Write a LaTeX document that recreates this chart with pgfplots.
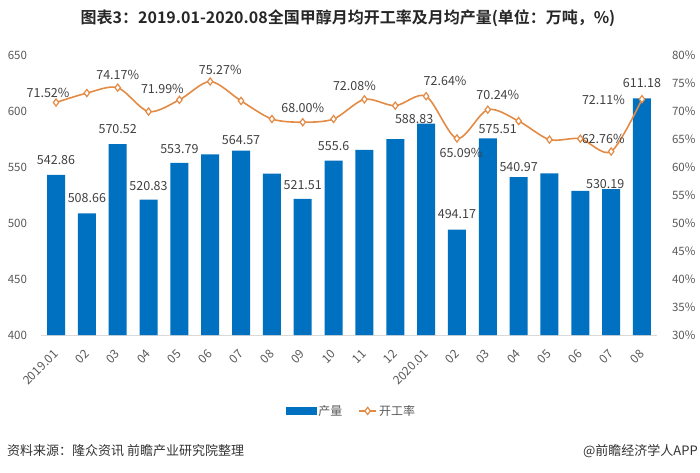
\documentclass[border=0pt]{standalone}
\usepackage{fontspec}
\setmainfont{Noto Sans CJK SC}
\newfontfamily\titlefont{Noto Sans CJK SC Bold}
\usepackage{pgfplots}
\pgfplotsset{compat=1.18}
\usepackage{pgfplotstable}
\definecolor{barblue}{HTML}{0070C0}
\definecolor{lineorange}{HTML}{E38B45}
\definecolor{tickgray}{HTML}{595959}
\definecolor{labgray}{HTML}{404040}
\definecolor{basegray}{HTML}{D9D9D9}

\pgfplotstableread{
x prod rate
0 542.86 71.52
1 508.66 73.20
2 570.52 74.17
3 520.83 69.90
4 553.79 71.99
5 561.30 75.27
6 564.57 71.80
7 544.00 68.57
8 521.51 68.00
9 555.60 68.57
10 565.20 72.08
11 575.00 70.95
12 588.83 72.64
13 494.17 65.09
14 575.51 70.24
15 540.97 68.20
16 544.40 64.90
17 528.60 65.05
18 530.19 62.76
19 611.18 72.11
}\data

\begin{document}
\begin{tikzpicture}[x=1pt,y=1pt]
\useasboundingbox (0,0) rectangle (700,472);
\tikzset{lab/.style={font=\fontsize{12.5}{12.5}\selectfont, text=labgray, inner sep=0pt, anchor=center}}
\begin{axis}[
  at={(40.6pt,137pt)}, anchor=south west,
  scale only axis, width=616.8pt, height=280pt,
  xmin=-0.5, xmax=19.5, ymin=400, ymax=650,
  axis x line*=bottom, axis y line*=left,
  y axis line style={draw=none},
  x axis line style={draw=basegray, line width=0.8pt, -},
  major tick length=0pt,
  ytick={400,450,...,650},
  xtick={0,...,19},
  xticklabels={2019.01,02,03,04,05,06,07,08,09,10,11,12,2020.01,02,03,04,05,06,07,08},
  /pgf/number format/assume math mode=true,
  yticklabel style={font=\fontsize{11.5}{11.5}\selectfont, text=tickgray, inner sep=0pt, anchor=east, xshift=-13.5pt},
  xticklabel style={font=\fontsize{12}{12}\selectfont, text=tickgray, inner sep=0pt, xshift=0pt, yshift=-17pt, rotate=45, anchor=east},
  clip=false,
]
\addplot[ybar, bar width=18pt, fill=barblue, draw=none] table[x=x, y=prod] {\data};
\node[lab, yshift=15pt] at (axis cs:0,542.86) {542.86};
\node[lab, yshift=15pt] at (axis cs:1,508.66) {508.66};
\node[lab, yshift=15pt] at (axis cs:2,570.52) {570.52};
\node[lab, yshift=14pt] at (axis cs:3,520.83) {520.83};
\node[lab, yshift=14pt] at (axis cs:4,553.79) {553.79};
\node[lab, yshift=11pt] at (axis cs:6,564.57) {564.57};
\node[lab, yshift=13.5pt] at (axis cs:8,521.51) {521.51};
\node[lab, yshift=15pt] at (axis cs:9,555.6) {555.6};
\node[lab, xshift=-12pt, yshift=4.5pt] at (axis cs:12,588.83) {588.83};
\node[lab, yshift=15pt] at (axis cs:13,494.17) {494.17};
\node[lab, xshift=10pt, yshift=9pt] at (axis cs:14,575.51) {575.51};
\node[lab, yshift=10.5pt] at (axis cs:15,540.97) {540.97};
\node[lab, xshift=-6pt, yshift=5pt] at (axis cs:18,530.19) {530.19};
\node[lab, yshift=15pt] at (axis cs:19,611.18) {611.18};
\end{axis}
\begin{axis}[
  at={(40.6pt,137pt)}, anchor=south west,
  scale only axis, width=616.8pt, height=280pt,
  xmin=-0.5, xmax=19.5, ymin=30, ymax=80,
  axis x line=none, axis y line*=right,
  y axis line style={draw=none},
  major tick length=0pt,
  ytick={30,35,...,80},
  yticklabels={30\%,35\%,40\%,45\%,50\%,55\%,60\%,65\%,70\%,75\%,80\%},
  yticklabel style={font=\fontsize{11.5}{11.5}\selectfont, text=tickgray, inner sep=0pt, anchor=west, xshift=14.5pt},
  clip=false,
  legend style={at={(0.504,-0.271)}, anchor=center, draw=none, fill=none,
    legend columns=2, font=\fontsize{12}{12}\selectfont, text=tickgray,
    /tikz/every even column/.append style={column sep=14pt},
    inner sep=0pt, nodes={inner sep=2pt}},
]
\addlegendimage{legend image code/.code={\fill[barblue] (0pt,-3.5pt) rectangle (30pt,3.5pt);}}
\addlegendentry{产量}
\addplot[lineorange, line width=1.6pt, smooth, tension=0.5,
  mark=diamond*, mark size=3.6pt,
  mark options={fill=white, draw=lineorange, line width=1.2pt, solid}]
  table[x=x, y=rate] {\data};
\addlegendentry{开工率}
\node[lab, xshift=-8pt, yshift=10pt] at (axis cs:0,71.52) {71.52\%};
\node[lab, yshift=13pt] at (axis cs:2,74.17) {74.17\%};
\node[lab, xshift=-17pt, yshift=11pt] at (axis cs:4,71.99) {71.99\%};
\node[lab, xshift=10pt, yshift=12pt] at (axis cs:5,75.27) {75.27\%};
\node[lab, yshift=14pt] at (axis cs:8,68.00) {68.00\%};
\node[lab, xshift=-10pt, yshift=13pt] at (axis cs:10,72.08) {72.08\%};
\node[lab, xshift=19pt, yshift=15pt] at (axis cs:12,72.64) {72.64\%};
\node[lab, xshift=4pt, yshift=-14pt] at (axis cs:13,65.09) {65.09\%};
\node[lab, xshift=10pt, yshift=15pt] at (axis cs:14,70.24) {70.24\%};
\node[lab, xshift=-8pt, yshift=13pt] at (axis cs:18,62.76) {62.76\%};
\node[lab, anchor=east, xshift=-17pt, yshift=-1pt] at (axis cs:19,72.11) {72.11\%};
\end{axis}
\node[font=\titlefont\fontsize{16}{16}\selectfont, text=black!85, anchor=center] at (348,454) {图表3：2019.01-2020.08全国甲醇月均开工率及月均产量(单位：万吨，\%)};
\node[font=\fontsize{13}{13}\selectfont, text=black!80, anchor=west, inner sep=0pt] at (7,21) {资料来源：隆众资讯 前瞻产业研究院整理};
\node[font=\fontsize{13}{13}\selectfont, text=black!80, anchor=east, inner sep=0pt] at (698,21) {@前瞻经济学人APP};
\end{tikzpicture}
\end{document}
